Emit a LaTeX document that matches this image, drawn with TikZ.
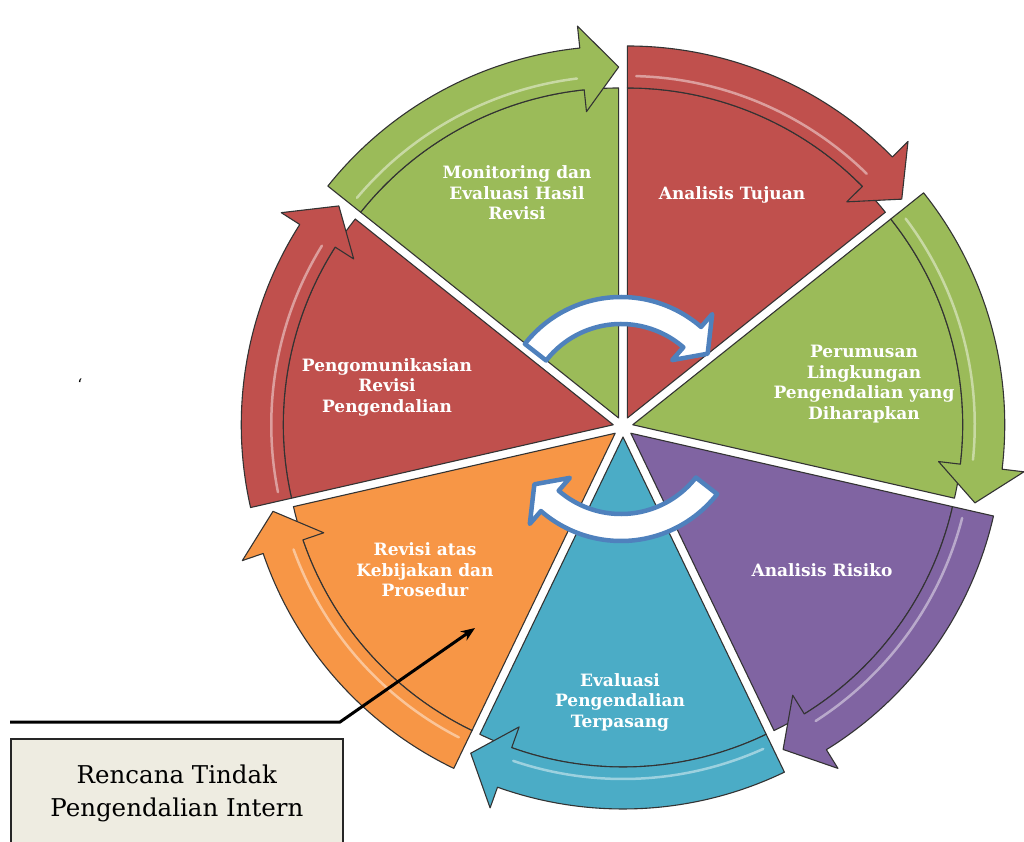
\documentclass[tikz,border=0pt]{standalone}
\usepackage{fontspec}
\setmainfont{DejaVu Serif}
\usetikzlibrary{arrows.meta,positioning}

\definecolor{ored}{HTML}{C0504D}
\definecolor{ogreen}{HTML}{9BBB59}
\definecolor{opurple}{HTML}{8064A2}
\definecolor{oaqua}{HTML}{4BACC6}
\definecolor{oorange}{HTML}{F79646}
\definecolor{oblue}{HTML}{4F81BD}
\definecolor{obeige}{HTML}{EEECE1}

% curved arrow band: from angle, head base angle, tip angle, inner r, outer r, barb overhang
\newcommand{\bandpath}[6]{%
  (#1:#5) arc[start angle=#1, end angle=#2, radius=#5]
  -- ({#2}:{#5+#6}) -- ({#3}:{(#4+#5)/2}) -- ({#2}:{#4-#6})
  -- (#2:#4) arc[start angle=#2, end angle=#1, radius=#4] -- cycle}

\tikzset{
  edgeline/.style={draw=black!80, line width=1.1pt, line join=round},
  steplabel/.style={text=white, align=center, font=\bfseries\fontsize{17}{20.5}\selectfont},
  turnarrow/.style={fill=white, draw=oblue, line width=4.5pt, line join=round}
}

\begin{document}
\begin{tikzpicture}[x=1pt,y=1pt]
	\useasboundingbox (0,0) rectangle (1024,841);

	% seven wedges, each with its own arrow band
	\begin{scope}[shift={(623,414)}]
		\foreach \i/\col in {0/ored,1/ogreen,2/opurple,3/oaqua,4/oorange,5/ored,6/ogreen} {
			\pgfmathsetmacro\a{90-51.4286*\i}
			\pgfmathsetmacro\e{\a-51.4286}
			\pgfmathsetmacro\b{\e+6}
			\pgfmathsetmacro\m{\a-25.7143}
			\pgfmathsetmacro\hs{\a-1.5}
			\pgfmathsetmacro\he{\b+1}
			\begin{scope}[shift={(\m:10)}]
				\filldraw[edgeline, fill=\col] (0,0) -- (\a:330) arc[start angle=\a, end angle=\e, radius=330] -- cycle;
				\filldraw[edgeline, fill=\col] \bandpath{\a}{\b}{\e}{330}{372}{22};
				\draw[white, opacity=0.45, line width=2.5pt, line cap=round] (\hs:342) arc[start angle=\hs, end angle=\he, radius=342];
			\end{scope}
		}
	\end{scope}

	% step texts
	\foreach \nm/\x/\y/\txt in {
		tujuan/732/646/{Analisis Tujuan},
		perumusan/864/457/{Perumusan\\Lingkungan\\Pengendalian yang\\Diharapkan},
		risiko/822/271/{Analisis Risiko},
		evaluasi/620/139/{Evaluasi\\Pengendalian\\Terpasang},
		revisi/425/271/{Revisi atas\\Kebijakan dan\\Prosedur},
		komunikasi/387/454/{Pengomunikasian\\Revisi\\Pengendalian},
		monitoring/517/648/{Monitoring dan\\Evaluasi Hasil\\Revisi}}
		\node[steplabel] (\nm) at (\x,\y) {\txt};

	% turning arrows in the middle
	\begin{scope}[shift={(621,422)}]
		\filldraw[turnarrow] \bandpath{142}{49}{37}{95}{122}{17};
		\filldraw[turnarrow] \bandpath{-38}{-131}{-143}{95}{122}{17};
	\end{scope}

	% plan box and pointer
	\node[draw=black!85, line width=1.8pt, fill=obeige, minimum width=332pt, minimum height=110pt,
		anchor=north west, inner sep=0pt, align=center, font=\fontsize{24.5}{33}\selectfont]
		(rencana) at (10,103) {Rencana Tindak\\Pengendalian Intern};
	\coordinate[above=16pt of rencana.north west] (lead);
	\coordinate (knee) at (340,119);
	\coordinate (target) at (475,213);
	\draw[line width=3pt, -{Stealth[length=14pt,width=11pt]}] (lead) -- (knee) -- (target);

	\node (tick) at (80,456) {\fontsize{16}{16}\selectfont`};
\end{tikzpicture}
\end{document}
